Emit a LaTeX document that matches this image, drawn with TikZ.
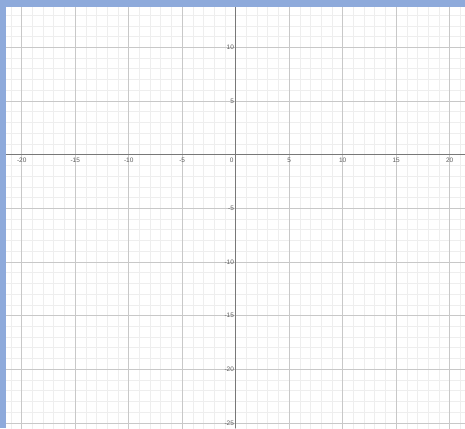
\documentclass[tikz,border=0pt]{standalone}
\usepackage{fontspec}
\setmainfont{Liberation Sans}
\usepackage{tikz}
\usetikzlibrary{positioning}

\definecolor{framebar}{RGB}{142,170,219}
\definecolor{minorgrid}{RGB}{238,238,238}
\definecolor{majorgrid}{RGB}{200,200,200}
\definecolor{axisgray}{RGB}{120,120,120}
\definecolor{ticktext}{RGB}{95,95,95}

\begin{document}
\begin{tikzpicture}[x=10.72pt, y=10.75pt,
        minorline/.style={draw=minorgrid, line width=0.8pt},
        majorline/.style={draw=majorgrid, line width=0.8pt},
        axisline/.style={draw=axisgray, line width=1.1pt},
        ticklabel/.style={text=ticktext, inner sep=0pt, font=\fontsize{6.5}{7}\selectfont}]

    \useasboundingbox (-22.03,-25.49) rectangle (21.43,14.42);
    \fill[white] (-22.03,-25.49) rectangle (21.43,14.42);

    % grid
    \begin{scope}
        \clip (-21.5,-25.49) rectangle (21.43,13.8);
        \draw[minorline] (-22,-26) grid[step=1] (22,14);
        \draw[majorline] (-22,-26) grid[step=5] (22,14);
    \end{scope}

    % axes
    \coordinate (xstart) at (-21.5,0);
    \coordinate (xend) at (21.43,0);
    \coordinate (ystart) at (0,-25.49);
    \coordinate (yend) at (0,13.8);
    \draw[axisline] (xstart) -- (xend);
    \draw[axisline] (ystart) -- (yend);

    % tick labels
    \foreach \x in {-20,-15,-10,-5,5,10,15,20}
        \node[ticklabel] (xl\x) at (\x,-0.56) {\x};
    \node[ticklabel] (xl0) at (-0.37,-0.56) {0};
    \foreach \y in {10,5,-5,-10,-15,-20,-25}
        \node[ticklabel, anchor=east] (yl\y) at (-0.15,\y) {\y};

    % frame bars
    \fill[framebar] (-22.03,13.8) rectangle (21.43,14.42);
    \fill[framebar] (-22.03,-25.49) rectangle (-21.5,14.42);
\end{tikzpicture}
\end{document}
